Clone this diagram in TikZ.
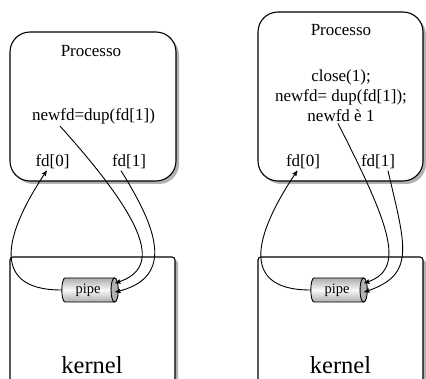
\documentclass[tikz,border=0pt]{standalone}
\usepackage{fontspec}
\setmainfont{Liberation Serif}
\usetikzlibrary{arrows,shapes.geometric,shadows,calc}

\begin{document}
\begin{tikzpicture}[->,>=stealth',x=1pt,y=1pt,line width=0.9pt,
                    font=\fontsize{17}{20}\selectfont]
  \tikzstyle{procbox}=[draw,line width=1.1pt,fill=white,rounded corners=20pt,
                       drop shadow={shadow xshift=3pt,shadow yshift=-3pt,
                                    fill=gray!60,opacity=1}]
  \tikzstyle{kernbox}=[draw,line width=1.1pt,fill=white,rounded corners=3pt,
                       drop shadow={shadow xshift=3pt,shadow yshift=-3pt,
                                    fill=gray!60,opacity=1}]
  \tikzstyle{pipebox}=[cylinder,draw,minimum width=24pt,minimum height=56pt,
                       aspect=0.5,inner sep=0pt,top color=gray!65,
                       bottom color=gray!65,middle color=gray!5,
                       font=\fontsize{14.5}{17}\selectfont]
  \tikzstyle{lbl}=[inner sep=1pt,anchor=base]

  \useasboundingbox (0,0) rectangle (426,378);
  \clip (0,0) rectangle (426,378);

  % processi
  \node[procbox,minimum width=166pt,minimum height=149pt] (proc1) at (93,271.5) {};
  \node[procbox,minimum width=165pt,minimum height=169pt] (proc2) at (340.5,281.5) {};
  % kernel
  \node[kernbox,minimum width=165pt,minimum height=141pt] (kern1) at (92.5,50.5) {};
  \node[kernbox,minimum width=165pt,minimum height=141pt] (kern2) at (340.5,50.5) {};

  \node[lbl] (title1) at (91,321) {Processo};
  \node[lbl] (dup1)   at (93.5,257) {newfd=dup(fd[1])};
  \node[lbl] (fd0a)   at (52.5,211) {fd[0]};
  \node[lbl] (fd1a)   at (129,211) {fd[1]};
  \node[lbl,font=\fontsize{24.5}{28}\selectfont] (klab1) at (92,5) {kernel};

  \node[lbl] (title2) at (341,342) {Processo};
  \node[inner sep=1pt,align=center] (dup2) at (341,282)
       {close(1);\\newfd= dup(fd[1]);\\newfd è 1};
  \node[lbl] (fd0b)   at (303,211) {fd[0]};
  \node[lbl] (fd1b)   at (378,211) {fd[1]};
  \node[lbl,font=\fontsize{24.5}{28}\selectfont] (klab2) at (340.5,5) {kernel};

  % pipe
  \node[pipebox] (pipe1) at (88,88) {pipe};
  \node[pipebox] (pipe2) at (337,88) {pipe};
  \foreach \pp in {pipe1,pipe2}
    \filldraw[-,fill=gray!60] let \p1=(\pp.before top), \p2=(\pp.top) in
      ($(\pp.before top)!.5!(\pp.after top)$) ellipse ({\x2-\x1} and 12pt);

  \path (pipe1) edge [out=180,in=236,out distance=75pt,in distance=70pt] (fd0a)
        ([xshift=-33.5pt]dup1.south) edge [out=-48,in=17,out distance=145pt,
              in distance=44pt] ([shift={(-3pt,7pt)}]pipe1.east)
        ([xshift=-8pt]fd1a.south) edge [out=-58,in=13,out distance=64pt,
              in distance=64pt] ([shift={(-3pt,-2pt)}]pipe1.east);

  \path (pipe2) edge [out=180,in=236,out distance=75pt,in distance=70pt] (fd0b)
        ([xshift=-3pt]dup2.south) edge [out=-63,in=17,out distance=118pt,
              in distance=44pt] ([shift={(-3pt,7pt)}]pipe2.east)
        ([xshift=10pt]fd1b.south) edge [out=-77,in=18,out distance=78pt,
              in distance=55pt] ([shift={(-3pt,-2pt)}]pipe2.east);
\end{tikzpicture}
\end{document}
